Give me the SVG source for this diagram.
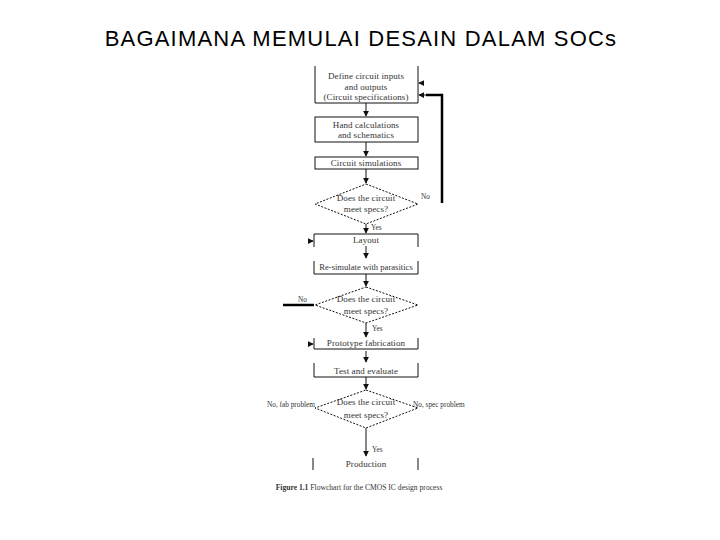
<svg xmlns="http://www.w3.org/2000/svg" width="720" height="540" viewBox="0 0 720 540">
<style>
.t{font-family:"Liberation Serif","Times New Roman",serif;font-size:9px;letter-spacing:0.1px;fill:#333;text-anchor:middle}
.l{font-family:"Liberation Serif","Times New Roman",serif;font-size:7.3px;fill:#333}
.b{fill:none;stroke:#111;stroke-width:1}
.d{fill:none;stroke:#111;stroke-width:1;stroke-dasharray:2,1.5}
.c{fill:none;stroke:#111;stroke-width:1}
.k{fill:none;stroke:#000;stroke-width:2.5}
</style>
<defs>
<marker id="ah" viewBox="0 0 8 8" refX="7" refY="4" markerWidth="6" markerHeight="6" orient="auto" markerUnits="userSpaceOnUse">
<path d="M0,0 L8,4 L0,8 Z" fill="#111"/>
</marker>
</defs>
<rect width="720" height="540" fill="#fff"/>
<text x="361" y="46" font-family="Liberation Sans, Arial, sans-serif" font-size="22" letter-spacing="1.2" text-anchor="middle" fill="#000">BAGAIMANA MEMULAI DESAIN DALAM SOCs</text>

<g id="n1"><path class="b" d="M315,66 V103 H418 V66"/>
<text class="t" x="366" y="79">Define circuit inputs</text>
<text class="t" x="366" y="90">and outputs</text>
<text class="t" x="366" y="100">(Circuit specifications)</text></g>

<g id="n2"><rect class="b" x="315" y="117" width="103" height="25"/>
<text class="t" x="366" y="128">Hand calculations</text>
<text class="t" x="366" y="138">and schematics</text></g>

<g id="n3"><rect class="b" x="315" y="157" width="103" height="12"/>
<text class="t" x="366" y="166">Circuit simulations</text></g>

<g id="n4"><path class="d" d="M366,184 L418,204 L366,224 L315,204 Z"/>
<text class="t" x="366" y="201">Does the circuit</text>
<text class="t" x="366" y="212">meet specs?</text></g>

<g id="n5"><path class="b" d="M314,247 V234 H418 V247"/>
<text class="t" x="366" y="243">Layout</text></g>

<g id="n6"><path class="b" d="M314,261 V274 H418 V261"/>
<text class="t" x="366" y="270" style="font-size:8.6px;letter-spacing:0">Re-simulate with parasitics</text></g>

<g id="n7"><path class="d" d="M366,287 L418,305 L366,323 L315,305 Z"/>
<text class="t" x="366" y="302">Does the circuit</text>
<text class="t" x="366" y="314">meet specs?</text></g>

<g id="n8"><path class="b" d="M314,338 V349 H418 V338"/>
<text class="t" x="366" y="346">Prototype fabrication</text></g>

<g id="n9"><path class="b" d="M314,363 V377 H418 V363"/>
<text class="t" x="366" y="374">Test and evaluate</text></g>

<g id="n10"><path class="d" d="M366,390 L418,408 L366,428 L315,408 Z"/>
<text class="t" x="366" y="405">Does the circuit</text>
<text class="t" x="366" y="418">meet specs?</text></g>

<g id="n11"><path class="b" d="M313,458 V470 M418,458 V470"/>
<text class="t" x="366" y="467">Production</text></g>

<g id="connectors">
<path class="c" d="M366,103 V116" marker-end="url(#ah)"/>
<path class="c" d="M366,142 V156" marker-end="url(#ah)"/>
<path class="c" d="M366,169 V183" marker-end="url(#ah)"/>
<path class="c" d="M366,224 V233" marker-end="url(#ah)"/>
<path class="c" d="M366,246 V258" marker-end="url(#ah)"/>
<path class="c" d="M366,274 V286" marker-end="url(#ah)"/>
<path class="c" d="M366,323 V337" marker-end="url(#ah)"/>
<path class="c" d="M366,351 V362" marker-end="url(#ah)"/>
<path class="c" d="M366,377 V389" marker-end="url(#ah)"/>
<path class="c" d="M366,428 V456" marker-end="url(#ah)"/>
<path class="k" d="M442,203 V95 H426"/>
<path class="c" d="M426,95 H419" marker-end="url(#ah)"/>
<path class="c" d="M424,83 H419" marker-end="url(#ah)"/>
<path class="c" d="M308,241 H313" marker-end="url(#ah)"/>
<path class="c" d="M308,344 H313" marker-end="url(#ah)"/>
<path class="k" d="M283,305 H314"/>
<text class="l" x="421" y="199">No</text>
<text class="l" x="371" y="230">Yes</text>
<text class="l" x="298" y="302">No</text>
<text class="l" x="372" y="331">Yes</text>
<text class="l" x="267" y="407">No, fab problem</text>
<text class="l" x="413" y="407">No, spec problem</text>
<text class="l" x="372" y="452">Yes</text>
</g>
<text x="359" y="490" font-family="Liberation Serif, Times New Roman, serif" font-size="7.6" fill="#333" text-anchor="middle"><tspan font-weight="bold">Figure 1.1</tspan>  Flowchart for the CMOS IC design process</text>
</svg>
